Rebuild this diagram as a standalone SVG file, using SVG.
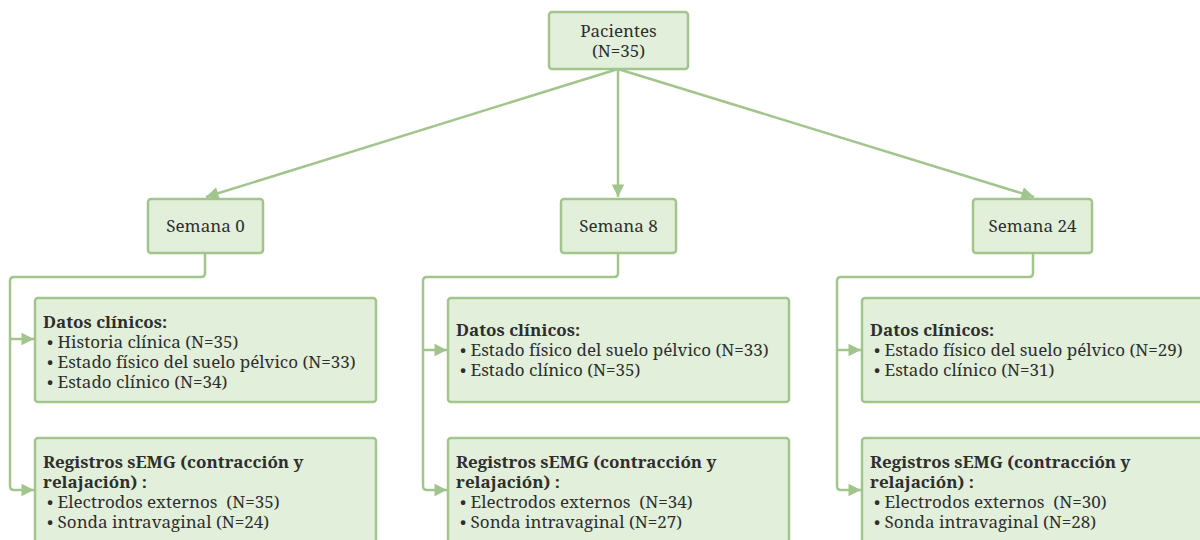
<svg xmlns="http://www.w3.org/2000/svg" width="1200" height="540" viewBox="0 0 1200 540">
<style>
.box{fill:#e2efda;stroke:#a2c58d;stroke-width:2.5}
.t{font-family:"Noto Serif","DejaVu Serif","Liberation Serif",serif;font-size:17px;fill:#2e2e2e}
.b{font-weight:bold}
.c{text-anchor:middle}
.ln{fill:none;stroke:#a2c58d;stroke-width:2.5;stroke-linejoin:round}
</style>
<defs>
<marker id="ah" viewBox="0 0 10 10" refX="10" refY="5" markerWidth="5.5" markerHeight="5" orient="auto" markerUnits="strokeWidth">
<path d="M0,0 L10,5 L0,10 z" fill="#a2c58d"/>
</marker>
</defs>
<rect width="1200" height="540" fill="#fff"/>
<g id="connectors">
<line class="ln" x1="618" y1="69" x2="206" y2="197" marker-end="url(#ah)"/>
<line class="ln" x1="618" y1="69" x2="618" y2="197" marker-end="url(#ah)"/>
<line class="ln" x1="618" y1="69" x2="1034" y2="197" marker-end="url(#ah)"/>
<path class="ln" d="M205,253 V273 Q205,277 201,277 H14 Q10,277 10,281 V486 Q10,490 14,490 H34" marker-end="url(#ah)"/>
<path class="ln" d="M10,339 H34" marker-end="url(#ah)"/>
<path class="ln" d="M618,253 V273 Q618,277 614,277 H427 Q423,277 423,281 V486 Q423,490 427,490 H447" marker-end="url(#ah)"/>
<path class="ln" d="M423,350 H447" marker-end="url(#ah)"/>
<path class="ln" d="M1033,253 V273 Q1033,277 1029,277 H841 Q837,277 837,281 V486 Q837,490 841,490 H861" marker-end="url(#ah)"/>
<path class="ln" d="M837,350 H861" marker-end="url(#ah)"/>
</g>
<g id="pacientes">
<rect class="box" x="549" y="12" width="139" height="57" rx="3"/>
<text class="t c" x="618.5" y="37">Pacientes</text>
<text class="t c" x="618.5" y="57">(N=35)</text>
</g>
<g id="semana0">
<rect class="box" x="148" y="199" width="115" height="54" rx="3"/>
<text class="t c" x="205.5" y="232">Semana 0</text>
</g>
<g id="semana8">
<rect class="box" x="561" y="199" width="115" height="54" rx="3"/>
<text class="t c" x="618.5" y="232">Semana 8</text>
</g>
<g id="semana24">
<rect class="box" x="973" y="199" width="119" height="54" rx="3"/>
<text class="t c" x="1032.5" y="232">Semana 24</text>
</g>
<g id="datos0">
<rect class="box" x="35" y="298" width="341" height="104" rx="3"/>
<text class="t b" x="43" y="328">Datos clínicos:</text>
<text class="t" x="47" y="348">• Historia clínica (N=35)</text>
<text class="t" x="47" y="368">• Estado físico del suelo pélvico (N=33)</text>
<text class="t" x="47" y="388">• Estado clínico (N=34)</text>
</g>
<g id="semg0">
<rect class="box" x="35" y="438" width="341" height="120" rx="3"/>
<text class="t b" x="43" y="468">Registros sEMG (contracción y</text>
<text class="t b" x="43" y="488">relajación) :</text>
<text class="t" x="47" y="508" xml:space="preserve">• Electrodos externos  (N=35)</text>
<text class="t" x="47" y="528">• Sonda intravaginal (N=24)</text>
</g>
<g id="datos8">
<rect class="box" x="448" y="298" width="341" height="104" rx="3"/>
<text class="t b" x="456" y="336">Datos clínicos:</text>
<text class="t" x="460" y="356">• Estado físico del suelo pélvico (N=33)</text>
<text class="t" x="460" y="376">• Estado clínico (N=35)</text>
</g>
<g id="semg8">
<rect class="box" x="448" y="438" width="341" height="120" rx="3"/>
<text class="t b" x="456" y="468">Registros sEMG (contracción y</text>
<text class="t b" x="456" y="488">relajación) :</text>
<text class="t" x="460" y="508" xml:space="preserve">• Electrodos externos  (N=34)</text>
<text class="t" x="460" y="528">• Sonda intravaginal (N=27)</text>
</g>
<g id="datos24">
<rect class="box" x="862" y="298" width="360" height="104" rx="3"/>
<text class="t b" x="870" y="336">Datos clínicos:</text>
<text class="t" x="874" y="356">• Estado físico del suelo pélvico (N=29)</text>
<text class="t" x="874" y="376">• Estado clínico (N=31)</text>
</g>
<g id="semg24">
<rect class="box" x="862" y="438" width="360" height="120" rx="3"/>
<text class="t b" x="870" y="468">Registros sEMG (contracción y</text>
<text class="t b" x="870" y="488">relajación) :</text>
<text class="t" x="874" y="508" xml:space="preserve">• Electrodos externos  (N=30)</text>
<text class="t" x="874" y="528">• Sonda intravaginal (N=28)</text>
</g>
</svg>
